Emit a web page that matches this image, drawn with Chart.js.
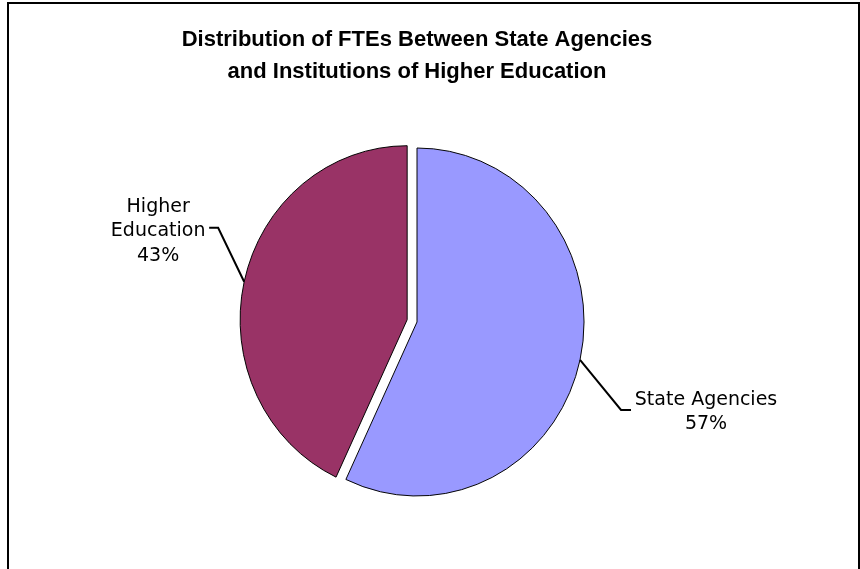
<!DOCTYPE html>
<html>
<head>
<meta charset="utf-8">
<script src="https://cdn.jsdelivr.net/npm/chart.js@4"></script>
<style>
  html, body { margin: 0; padding: 0; background: #fff; overflow: hidden; }
  #frame {
    position: absolute; left: 7px; top: 2px; width: 849px; height: 600px;
    border: 2px solid #000; border-bottom: none;
  }
  #fte-chart { position: absolute; left: 0; top: 0; }
</style>
</head>
<body>
<div id="frame"></div>
<canvas id="fte-chart" width="860" height="569"></canvas>
<script>
const categories = ['State Agencies', 'Higher Education'];
const shares = [57, 43];
const titleLines = ['Distribution of FTEs Between State Agencies', 'and Institutions of Higher Education'];

// pie is a touch narrower than it is tall
const X_SQUEEZE = 0.96;
// how far each slice is pulled out of the pie
const explode = [0, 10.5];

// where each label goes relative to the point on the slice edge
const labelLayout = [
  { lines: ['State Agencies'], elbow: [41, 50], end: [51, 50], textX: 126, textY: 40 },
  { lines: ['Higher', 'Education'], elbow: [-26, -54], end: [-35, -54], textX: -86, textY: -75 }
];

function midAngle(arc) {
  return (arc.startAngle + arc.endAngle) / 2;
}

function edgePoint(arc) {
  const mid = midAngle(arc);
  return {
    x: arc.x + Math.cos(mid) * arc.outerRadius * X_SQUEEZE,
    y: arc.y + Math.sin(mid) * arc.outerRadius
  };
}

// shift exploded slices outward without making them bigger
const pullOut = {
  id: 'pullOut',
  afterDatasetsUpdate(chart) {
    chart.getDatasetMeta(0).data.forEach((arc, i) => {
      const d = explode[i] || 0;
      const mid = midAngle(arc);
      arc.x += Math.cos(mid) * d;
      arc.y += Math.sin(mid) * d;
    });
  }
};

const squeeze = {
  id: 'squeeze',
  beforeDatasetsDraw(chart) {
    const arc = chart.getDatasetMeta(0).data[0];
    const ctx = chart.ctx;
    ctx.save();
    ctx.translate(arc.x, arc.y);
    ctx.scale(X_SQUEEZE, 1);
    ctx.translate(-arc.x, -arc.y);
  },
  afterDatasetsDraw(chart) {
    chart.ctx.restore();
  }
};

const sliceLabels = {
  id: 'sliceLabels',
  afterDatasetsDraw(chart) {
    const ctx = chart.ctx;
    const data = chart.data.datasets[0].data;
    const total = data.reduce((a, b) => a + b, 0);
    const cx = chart.getDatasetMeta(0).data[0].x;
    chart.getDatasetMeta(0).data.forEach((arc, i) => {
      const L = labelLayout[i];
      const p = edgePoint(arc);
      // slice centre was moved before the squeeze, so pull its x in too
      p.x = cx + (p.x - cx) + (arc.x - cx) * (X_SQUEEZE - 1);
      ctx.save();
      ctx.strokeStyle = '#000';
      ctx.lineWidth = 2;
      ctx.beginPath();
      ctx.moveTo(p.x, p.y);
      ctx.lineTo(p.x + L.elbow[0], p.y + L.elbow[1]);
      ctx.lineTo(p.x + L.end[0], p.y + L.end[1]);
      ctx.stroke();

      const lines = L.lines.concat([Math.round(data[i] / total * 100) + '%']);
      ctx.fillStyle = '#000';
      ctx.font = '19px "DejaVu Sans"';
      ctx.textAlign = 'center';
      ctx.textBaseline = 'middle';
      lines.forEach((t, k) => {
        ctx.fillText(t, p.x + L.textX, p.y + L.textY + k * 24.5);
      });
      ctx.restore();
    });
  }
};

const ctx = document.querySelector('#fte-chart').getContext('2d');
const fteChart = new Chart(ctx, {
  type: 'pie',
  data: {
    labels: categories,
    datasets: [{
      data: shares,
      backgroundColor: ['#9999FF', '#993366'],
      borderColor: '#000',
      borderWidth: 1
    }]
  },
  options: {
    responsive: false,
    animation: false,
    events: [],
    radius: 174,
    layout: {
      padding: { left: 0, right: 26, top: 0, bottom: 13 }
    },
    plugins: {
      legend: { display: false },
      tooltip: { enabled: false },
      title: {
        display: true,
        text: titleLines,
        color: '#000',
        font: { family: '"Liberation Sans", Arial, sans-serif', size: 22, weight: 'bold', lineHeight: 32 / 22 },
        padding: { top: 24, bottom: 0 }
      }
    }
  },
  plugins: [pullOut, squeeze, sliceLabels]
});
</script>
</body>
</html>
